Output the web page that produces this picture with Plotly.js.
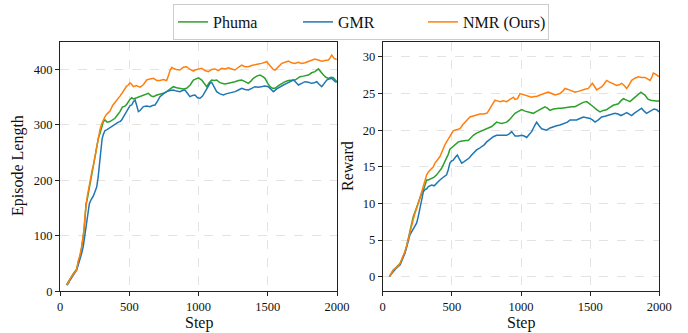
<!DOCTYPE html>
<html>
<head>
<meta charset="utf-8">
<script src="https://cdn.plot.ly/plotly-3.0.1.min.js"></script>
<style>html,body{margin:0;padding:0;background:#fff}#chart{width:688px;height:333px}</style>
</head>
<body>
<div id="chart"></div>
<script>
// ---- Episode Length (left panel) ----
const lenStepNMR = [48,60,72,84,96,108,120,132,144,156,165,173,180,188,196,205,215,224,233,241,253,265,277,289,301,313,325,340,361,380,397,415,433,450,469,481,493,505,518,530,550,578,600,626,650,674,700,722,746,770,782,794,808,818,840,866,890,914,940,963,975,1000,1023,1047,1071,1095,1119,1143,1168,1192,1216,1240,1264,1288,1312,1336,1360,1384,1408,1432,1456,1475,1492,1520,1540,1553,1575,1601,1625,1649,1673,1697,1721,1745,1769,1793,1817,1841,1865,1890,1914,1938,1950,1962,1980,1998];
const lenNMR = [12,15,22,26,30,34,39,55,65,80,95,111,135,161,170,182,198,212,220,227,245,262,282,292,302,310,315,320,325,335,340,345,352,358,367,370,372,376,373,369,371,368,372,381,383,384,380,380,382,380,388,398,404,402,400,399,404,405,400,397,399,401,402,398,396,400,401,398,402,401,403,401,399,404,408,405,405,407,409,410,411,413,414,406,400,399,405,411,413,415,412,411,413,411,412,414,416,419,417,415,416,417,421,426,420,418];

const lenStepPhuma = [48,60,72,84,96,108,120,132,144,156,165,173,180,188,196,205,215,224,233,241,253,265,277,289,301,313,325,340,361,380,397,415,433,450,469,481,493,505,518,530,554,578,602,626,638,660,674,700,722,746,770,794,818,842,866,890,914,940,963,987,1000,1023,1041,1059,1077,1095,1113,1131,1150,1168,1192,1216,1240,1264,1288,1312,1336,1360,1378,1396,1420,1444,1465,1480,1500,1517,1535,1553,1577,1601,1625,1649,1673,1697,1715,1733,1757,1775,1793,1817,1841,1866,1884,1902,1920,1938,1956,1974,1998];
const lenPhuma = [12,17,24,28,32,36,40,52,62,78,92,108,130,158,165,178,192,205,215,224,240,258,276,285,298,306,309,305,306,310,312,318,324,332,334,337,342,346,349,347,349,351,353,355,357,352,351,354,355,357,360,364,369,367,366,365,366,372,381,384,385,381,374,369,376,381,380,381,377,375,374,375,377,378,380,381,378,375,379,384,388,390,387,384,375,369,366,366,371,375,378,380,381,381,384,387,388,389,390,394,396,401,395,390,386,384,386,385,378];

const lenStepGMR = [48,60,72,84,96,108,120,132,144,156,168,180,193,202,212,224,241,253,265,275,284,294,304,313,325,337,349,361,373,385,397,409,421,433,445,457,469,482,494,506,518,530,542,554,566,578,590,602,626,650,668,686,704,722,746,770,794,818,842,866,884,902,920,938,956,975,993,1011,1029,1047,1065,1083,1095,1113,1131,1155,1180,1198,1216,1240,1264,1288,1312,1336,1360,1384,1408,1432,1456,1480,1504,1522,1541,1565,1589,1613,1637,1661,1685,1703,1721,1745,1769,1793,1817,1836,1854,1872,1890,1908,1926,1944,1962,1974,1986,1998];
const lenGMR = [11,14,20,24,29,33,38,48,57,68,81,100,123,140,158,165,172,180,188,205,230,258,275,283,290,291,293,296,297,300,302,303,305,306,309,314,320,324,330,335,336,342,345,335,324,326,330,333,334,333,335,336,343,351,356,360,362,363,361,360,362,363,357,351,353,354,349,348,352,360,368,375,377,368,360,356,354,356,357,358,360,363,366,364,363,366,369,368,369,370,369,365,360,365,369,372,375,378,381,377,372,375,378,377,375,376,378,373,369,375,381,383,384,381,378,377];

// ---- Reward (right panel) ----
const rewStepNMR = [48,60,77,95,113,125,137,149,161,173,185,197,209,221,233,245,257,270,282,294,306,318,330,348,366,378,390,402,414,426,438,450,462,474,486,498,510,522,540,559,577,595,613,631,649,667,685,703,727,752,764,776,794,812,830,848,872,896,920,945,957,975,993,1011,1029,1053,1077,1095,1113,1137,1161,1179,1197,1222,1246,1264,1282,1300,1318,1336,1354,1372,1390,1414,1438,1462,1487,1502,1516,1531,1547,1565,1583,1601,1619,1637,1655,1673,1692,1710,1728,1746,1764,1782,1800,1824,1848,1872,1896,1915,1933,1945,1957,1969,1981,1998];
const rewNMR = [0.0,0.4,0.9,1.2,1.45,1.8,2.3,2.8,3.4,4.2,5.2,6.0,6.8,7.8,8.6,9.2,10.0,10.8,11.6,12.5,13.4,13.9,14.3,14.6,15.0,15.5,15.9,16.1,16.4,17.0,17.5,18.0,18.4,18.8,19.3,19.7,19.9,20.0,20.1,20.2,20.7,21.1,21.5,21.8,21.9,22.0,22.1,22.2,22.2,22.3,22.6,23.0,23.5,24.1,24.0,23.9,24.0,23.9,24.2,24.5,24.2,24.3,25.0,24.9,24.8,24.6,24.5,24.6,24.6,24.8,25.0,25.1,25.2,25.0,24.8,24.9,25.0,25.3,25.7,25.6,25.5,25.4,25.2,25.3,25.5,25.6,25.7,26.0,26.4,26.0,25.5,25.7,25.9,26.3,26.8,26.6,26.4,26.2,26.1,26.2,26.4,26.1,25.7,26.2,26.8,27.1,27.3,27.2,27.2,27.0,26.8,27.2,27.8,27.7,27.5,27.3];

const rewStepPhuma = [48,60,77,95,113,125,137,149,161,173,185,197,209,221,233,245,257,270,282,294,306,318,330,342,354,372,390,408,426,444,462,474,486,504,522,535,547,565,583,601,619,637,655,679,703,727,752,770,788,806,824,842,860,878,896,915,933,945,957,975,993,1005,1029,1053,1071,1089,1107,1125,1149,1173,1191,1209,1234,1258,1276,1294,1318,1342,1366,1390,1408,1426,1450,1475,1499,1523,1547,1571,1595,1619,1643,1667,1686,1704,1722,1740,1764,1788,1806,1824,1845,1867,1881,1896,1908,1920,1938,1957,1977,1998];
const rewPhuma = [0.0,0.4,0.9,1.2,1.5,1.8,2.3,2.8,3.4,4.2,5.2,6.4,7.2,8.2,8.8,9.4,10.0,10.9,11.4,11.8,12.6,13.2,13.2,13.3,13.4,13.6,13.9,14.3,14.8,15.5,16.1,16.7,17.4,17.7,17.9,18.2,18.4,18.5,18.6,18.6,18.6,19.0,19.3,19.6,19.8,20.0,20.2,20.4,20.5,20.8,21.1,21.0,20.9,21.0,21.1,21.4,21.8,22.1,22.3,22.5,22.7,22.8,22.6,22.5,22.4,22.3,22.5,22.7,23.0,23.2,23.0,22.7,22.9,23.0,23.0,23.0,23.1,23.2,23.2,23.2,23.4,23.6,23.8,23.9,23.6,23.2,22.8,22.5,22.7,22.8,23.1,23.4,23.5,23.6,24.0,24.3,24.1,23.9,24.2,24.5,24.9,25.2,25.0,24.8,24.5,24.2,24.1,24.0,24.0,24.0];

const rewStepGMR = [48,60,77,95,113,125,137,149,161,173,185,197,209,221,233,245,257,270,282,294,306,318,330,342,354,372,390,408,426,444,462,474,486,498,510,525,540,556,571,589,607,625,643,661,679,697,715,734,752,776,800,824,848,872,896,915,933,945,957,981,1005,1023,1041,1059,1077,1095,1113,1131,1149,1167,1185,1210,1234,1258,1282,1300,1318,1336,1354,1378,1402,1426,1451,1475,1499,1517,1535,1559,1583,1607,1631,1655,1679,1701,1723,1744,1764,1782,1800,1818,1836,1854,1872,1890,1908,1926,1944,1962,1981,1998];
const rewGMR = [0.0,0.3,0.8,1.1,1.4,1.6,2.1,2.6,3.2,4.0,5.0,5.7,6.1,6.5,6.9,7.3,8.2,9.5,10.6,11.6,11.9,12.0,12.3,12.4,12.5,12.4,12.8,13.1,13.4,13.6,13.9,14.6,15.5,15.8,15.9,16.3,16.6,16.0,15.5,15.7,15.9,16.2,16.6,17.0,17.3,17.5,17.7,18.0,18.4,18.8,19.1,19.3,19.3,19.3,19.3,19.5,19.8,19.5,19.2,19.2,19.3,19.2,19.0,19.4,19.8,20.5,21.1,20.6,20.2,20.1,20.0,20.3,20.5,20.6,20.7,20.8,20.9,21.1,21.4,21.4,21.4,21.6,21.8,21.7,21.6,21.4,21.1,21.4,21.8,21.9,22.0,22.1,22.3,22.2,22.0,22.2,22.4,22.2,22.0,22.3,22.5,22.8,23.0,22.6,22.3,22.5,22.7,22.9,22.8,22.5];

const xTicks = [0,500,1000,1500,2000];
const lenTicks = [0,100,200,300,400];
const rewTicks = [0,5,10,15,20,25,30];

const cGreen = '#2ca02c', cBlue = '#1f77b4', cOrange = '#ff7f0e';
const serif = '"Liberation Serif", "Times New Roman", serif';

function tr(x, y, name, color, xa, ya, show) {
  return {x: x, y: y, name: name, type: 'scatter', mode: 'lines',
    line: {color: color, width: 1.5}, xaxis: xa, yaxis: ya, showlegend: show, legendgroup: name};
}

const data = [
  tr(lenStepPhuma, lenPhuma, 'Phuma', cGreen, 'x', 'y', true),
  tr(lenStepGMR, lenGMR, 'GMR', cBlue, 'x', 'y', true),
  tr(lenStepNMR, lenNMR, 'NMR (Ours)', cOrange, 'x', 'y', true),
  tr(rewStepPhuma, rewPhuma, 'Phuma', cGreen, 'x2', 'y2', false),
  tr(rewStepGMR, rewGMR, 'GMR', cBlue, 'x2', 'y2', false),
  tr(rewStepNMR, rewNMR, 'NMR (Ours)', cOrange, 'x2', 'y2', false)
];

const axBase = {
  showline: true, linecolor: '#222', linewidth: 1, mirror: true,
  ticks: 'outside', ticklen: 4, tickwidth: 1, tickcolor: '#222',
  showgrid: true, gridcolor: '#dcdcdc', gridwidth: 0.8, griddash: 'dash',
  zeroline: false, tickfont: {family: serif, size: 12.5, color: '#111'}
};

const H = 333, W = 688;
const yDom = [1 - 291.3 / H, 1 - 42.3 / H];

const layout = {
  width: W, height: H,
  margin: {l: 0, r: 0, t: 0, b: 0},
  paper_bgcolor: '#fff', plot_bgcolor: '#fff',
  font: {family: serif, color: '#111'},
  xaxis: Object.assign({}, axBase, {domain: [60 / W, 337 / W], range: [0, 2000], tickvals: xTicks, anchor: 'y'}),
  yaxis: Object.assign({}, axBase, {domain: yDom, range: [0, 449], tickvals: lenTicks, anchor: 'x'}),
  xaxis2: Object.assign({}, axBase, {domain: [382.7 / W, 659.3 / W], range: [0, 2000], tickvals: xTicks, anchor: 'y2'}),
  yaxis2: Object.assign({}, axBase, {domain: yDom, range: [-2, 32], tickvals: rewTicks, anchor: 'x2'}),
  showlegend: true,
  legend: {orientation: 'h', x: 361 / W, xanchor: 'center', y: 1 - 4 / H, yanchor: 'top',
    bordercolor: '#cccccc', borderwidth: 1, bgcolor: '#fff', entrywidth: 80, entrywidthmode: 'pixels',
    font: {family: serif, size: 16, color: '#111'}},
  annotations: [
    {text: 'Episode Length', xref: 'paper', yref: 'paper', x: 18 / W, y: 1 - 166 / H, textangle: -90,
      showarrow: false, xanchor: 'center', yanchor: 'middle', font: {family: serif, size: 16, color: '#111'}},
    {text: 'Reward', xref: 'paper', yref: 'paper', x: 347 / W, y: 1 - 166 / H, textangle: -90,
      showarrow: false, xanchor: 'center', yanchor: 'middle', font: {family: serif, size: 16, color: '#111'}},
    {text: 'Step', xref: 'paper', yref: 'paper', x: 198.5 / W, y: 1 - 323 / H,
      showarrow: false, xanchor: 'center', yanchor: 'middle', font: {family: serif, size: 16, color: '#111'}},
    {text: 'Step', xref: 'paper', yref: 'paper', x: 521 / W, y: 1 - 323 / H,
      showarrow: false, xanchor: 'center', yanchor: 'middle', font: {family: serif, size: 16, color: '#111'}}
  ]
};

Plotly.newPlot('chart', data, layout, {staticPlot: true, displayModeBar: false});
</script>
</body>
</html>
